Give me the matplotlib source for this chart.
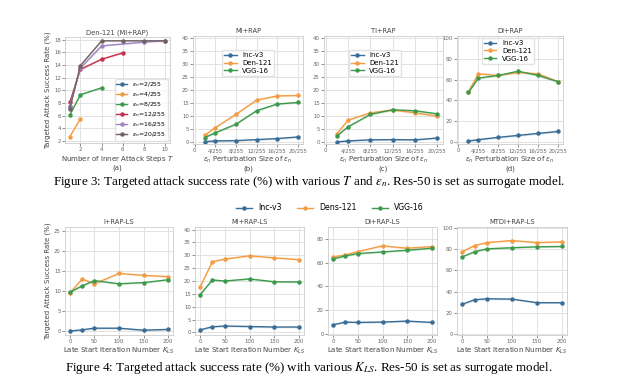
import matplotlib
matplotlib.use("Agg")
import matplotlib.pyplot as plt

W, H = 618, 387

# ---- Figure 3 data ----
eps_ticks = [0, 4, 8, 12, 16, 20]
eps_tick_labels = ["0", "4/255", "8/255", "12/255", "16/255", "20/255"]
eps_x = [2, 4, 8, 12, 16, 20]
models = ["Inc-v3", "Den-121", "VGG-16"]

# (a) Den-121 (MI+RAP), x = number of inner steps T
eps_n_labels = ["2/255", "4/255", "8/255", "12/255", "16/255", "20/255"]
steps_a = [[1], [1, 2], [1, 2, 4], [1, 2, 4, 6], [1, 2, 4, 8, 10], [1, 2, 4, 6, 8, 10]]
rate_a = [[7.3],
          [2.7, 5.5],
          [6.1, 9.3, 10.4],
          [8.1, 13.3, 14.9, 15.9],
          [7.5, 13.5, 17.0, 17.6, 17.8],
          [7.1, 13.9, 17.8, 17.8, 17.8, 17.8]]

# (b) MI+RAP
mi_inc = [0.1, 0.4, 0.5, 0.9, 1.3, 1.9]
mi_den = [2.6, 5.5, 10.6, 16.1, 17.7, 17.9]
mi_vgg = [1.7, 3.5, 6.8, 12.0, 14.6, 15.2]
# (c) TI+RAP
ti_inc = [0.0, 0.4, 0.8, 0.9, 0.8, 1.5]
ti_den = [3.1, 8.4, 11.2, 12.3, 11.2, 9.9]
ti_vgg = [2.3, 5.8, 10.6, 12.4, 12.0, 10.8]
# (d) DI+RAP
di_inc = [0.9, 2.2, 4.4, 6.3, 8.2, 10.1]
di_den = [48.3, 65.6, 64.0, 66.9, 65.6, 58.0]
di_vgg = [47.6, 61.5, 64.0, 68.1, 64.0, 58.0]

# ---- Figure 4 data ----
ls_x = [0, 25, 50, 100, 150, 200]
ls_models = ["Inc-v3", "Dens-121", "VGG-16"]
i_inc = [0.0, 0.3, 0.7, 0.7, 0.2, 0.4]
i_den = [9.5, 13.0, 11.8, 14.4, 13.9, 13.6]
i_vgg = [9.7, 11.3, 12.6, 11.8, 12.1, 12.8]
mils_inc = [1.0, 2.2, 2.5, 2.3, 2.1, 2.1]
mils_den = [17.5, 27.5, 28.5, 29.8, 29.0, 28.3]
mils_vgg = [14.6, 20.4, 20.0, 20.8, 19.7, 19.6]
dils_inc = [7.6, 9.9, 9.6, 9.9, 10.7, 9.6]
dils_den = [64.8, 66.5, 69.3, 74.1, 72.1, 73.5]
dils_vgg = [63.1, 65.6, 67.6, 69.0, 70.4, 72.1]
mt_inc = [28.0, 32.3, 33.2, 32.9, 29.5, 29.5]
mt_den = [77.6, 83.5, 86.3, 88.2, 86.3, 87.0]
mt_vgg = [72.7, 77.6, 80.4, 81.4, 82.3, 82.6]

C_BLUE, C_ORANGE, C_GREEN = "#3a6d96", "#f39c45", "#3d9a4c"
a_colors = [C_BLUE, C_ORANGE, C_GREEN, "#c4304c", "#a083c4", "#6f6262"]
TICK_FS, TITLE_FS, LABEL_FS, LEG_FS = 3.9, 4.9, 5.0, 5.0
TXT = "#444444"

fig = plt.figure(figsize=(W / 100, H / 100), dpi=100)


def box(l, t, r, b):
    return fig.add_axes([l / W, 1 - b / H, (r - l) / W, (b - t) / H])


def style(ax, title):
    ax.set_title(title, fontsize=TITLE_FS, color=TXT, pad=2)
    ax.grid(True, color="#dddddd", lw=0.6)
    ax.set_axisbelow(True)
    for s in ax.spines.values():
        s.set_color("#cccccc")
        s.set_linewidth(0.6)
    ax.tick_params(labelsize=TICK_FS, colors="#666666", length=2, width=0.5, pad=1)


def curve(ax, x, y, c, label, band):
    ax.fill_between(x, [v - band for v in y], [v + band for v in y], color=c, alpha=0.2, lw=0)
    ax.plot(x, y, color=c, marker="o", ms=2.2, lw=1.0, label=label)


# (a)
ax = box(65, 37, 170, 143)
style(ax, "Den-121 (MI+RAP)")
for xs, ys, c, lab in zip(steps_a, rate_a, a_colors, eps_n_labels):
    curve(ax, xs, ys, c, r"$\epsilon_n$=" + lab, 0.12)
ax.set_xlim(0.55, 10.45)
ax.set_ylim(1.7, 18.4)
ax.set_xticks([2, 4, 6, 8, 10])
ax.set_yticks(range(2, 19, 2))
ax.set_ylabel("Targeted Attack Success Rate (%)", fontsize=LABEL_FS, color=TXT, labelpad=2)
ax.set_xlabel("Number of Inner Attack Steps $T$\n(a)", fontsize=LABEL_FS, color=TXT, labelpad=1, linespacing=1.1)
ax.legend(loc="lower right", fontsize=4.4, frameon=True, borderpad=0.3, borderaxespad=0.3,
          handlelength=1.8, labelspacing=0.2, edgecolor="#dddddd")

# (b)-(d)
panels = [((193, 36, 303, 144), "MI+RAP", (mi_inc, mi_den, mi_vgg), (0, 40, 5), ("center", (0.5, 0.75)), "(b)", 0.35),
          ((324, 36, 443, 144), "TI+RAP", (ti_inc, ti_den, ti_vgg), (0, 40, 5), ("center", (0.43, 0.75)), "(c)", 0.35),
          ((457, 36, 563, 144), "DI+RAP", (di_inc, di_den, di_vgg), (0, 100, 20), ("upper center", (0.48, 1.0)), "(d)", 0.9)]
for pos, title, series, (y0, y1, ys), (loc, anchor), sub, band in panels:
    ax = box(*pos)
    style(ax, title)
    for y, c, lab in zip(series, [C_BLUE, C_ORANGE, C_GREEN], models):
        curve(ax, eps_x, y, c, lab, band)
    ax.set_xticks(eps_ticks)
    ax.set_xticklabels(eps_tick_labels)
    ax.set_xlim(-0.3, 21.0)
    ax.set_yticks(range(y0, y1 + 1, ys))
    ax.set_ylim(y0 - y1 * 0.02, y1 * 1.02)
    ax.set_xlabel(r"$\epsilon_n$ Perturbation Size of $\epsilon_n$" + "\n" + sub,
                  fontsize=LABEL_FS, color=TXT, labelpad=1, linespacing=1.1)
    ax.legend(loc=loc, bbox_to_anchor=anchor, fontsize=LEG_FS, frameon=True, borderpad=0.3,
              borderaxespad=0.3, handlelength=1.8, labelspacing=0.25, edgecolor="#dddddd")

fig.text(309 / W, 1 - 182 / H,
         r"Figure 3: Targeted attack success rate (%) with various $T$ and $\epsilon_n$. Res-50 is set as surrogate model.",
         ha="center", va="center", fontsize=9.4, family="Liberation Serif", math_fontfamily="stix")

# Figure 4
panels4 = [((65, 227, 173, 335), "I+RAP-LS", (i_inc, i_den, i_vgg), (0, 25, 5), (-1, 26)),
           ((195, 227, 304, 335), "MI+RAP-LS", (mils_inc, mils_den, mils_vgg), (0, 40, 5), (-1, 41)),
           ((328, 227, 437, 335), "DI+RAP-LS", (dils_inc, dils_den, dils_vgg), (0, 80, 20), (-1, 90)),
           ((457, 227, 567, 335), "MTDI+RAP-LS", (mt_inc, mt_den, mt_vgg), (0, 100, 20), (-1, 101))]
for k, (pos, title, series, (y0, y1, ys), lim) in enumerate(panels4):
    ax = box(*pos)
    style(ax, title)
    for y, c, lab in zip(series, [C_BLUE, C_ORANGE, C_GREEN], ls_models):
        curve(ax, ls_x, y, c, lab, (lim[1] - lim[0]) * 0.008)
    ax.set_xticks([0, 50, 100, 150, 200])
    ax.set_xlim(-10, 210)
    ax.set_yticks(range(y0, y1 + 1, ys))
    ax.set_ylim(*lim)
    ax.set_xlabel("Late Start Iteration Number $K_{LS}$", fontsize=LABEL_FS, color=TXT, labelpad=1)
    if k == 0:
        ax.set_ylabel("Targeted Attack Success Rate (%)", fontsize=LABEL_FS, color=TXT, labelpad=2)
        handles, labels = ax.get_legend_handles_labels()

fig.legend(handles, labels, loc="center", bbox_to_anchor=(330 / W, 1 - 208 / H), ncol=3,
           fontsize=5.6, frameon=False, handlelength=2.0, columnspacing=2.0)

fig.text(309 / W, 1 - 368 / H,
         r"Figure 4: Targeted attack success rate (%) with various $K_{LS}$. Res-50 is set as surrogate model.",
         ha="center", va="center", fontsize=9.4, family="Liberation Serif", math_fontfamily="stix")

fig.savefig("out.png", dpi=100)
